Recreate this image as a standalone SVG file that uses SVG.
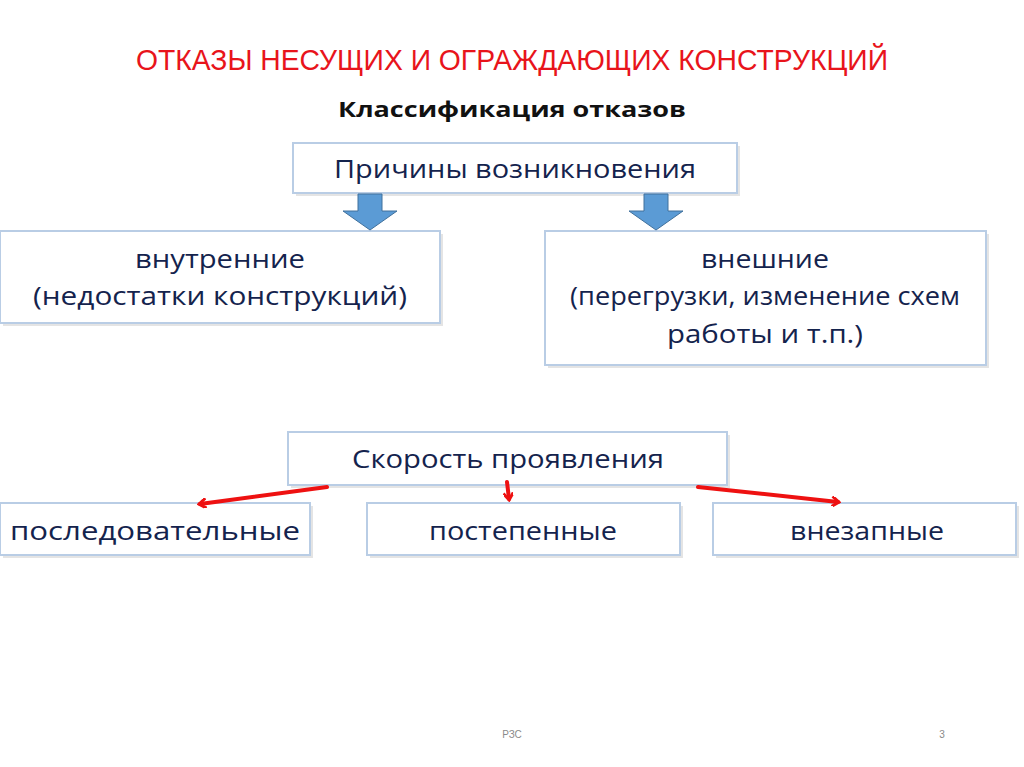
<svg xmlns="http://www.w3.org/2000/svg" width="1024" height="767" viewBox="0 0 1024 767">
<style>
.box{fill:#fff;stroke:#b9cde5;stroke-width:2}
.sh{fill:#e4e4e4}
.t{font-family:"Open Sans","Liberation Sans",sans-serif;fill:#14234d;font-size:25px;text-anchor:middle}
.r{stroke:#ee1111;stroke-width:4;fill:none;stroke-linecap:round}
</style>
<defs>
<marker id="ah" markerWidth="10" markerHeight="10" refX="7" refY="5" orient="auto" markerUnits="userSpaceOnUse" viewBox="0 0 10 10"><path d="M1,0 L8,5 L1,10" fill="none" stroke="#ee1111" stroke-width="3"/></marker>
</defs>
<rect width="1024" height="767" fill="#fff"/>
<text x="512" y="70" font-family="Liberation Sans Narrow,Liberation Sans,sans-serif" font-size="29" fill="#e8141b" text-anchor="middle" textLength="752" lengthAdjust="spacingAndGlyphs">ОТКАЗЫ НЕСУЩИХ И ОГРАЖДАЮЩИХ КОНСТРУКЦИЙ</text>
<text x="512" y="117" font-family="Open Sans,Liberation Sans,sans-serif" font-size="22" font-weight="bold" fill="#111" text-anchor="middle" textLength="348" lengthAdjust="spacingAndGlyphs">Классификация отказов</text>
<g id="n1"><rect class="sh" x="296" y="146" width="444" height="50"/><rect class="box" x="293" y="143" width="444" height="50"/><text class="t" x="515" y="178" textLength="362" lengthAdjust="spacingAndGlyphs">Причины возникновения</text></g>
<g id="n2"><rect class="sh" x="3" y="234" width="440" height="92"/><rect class="box" x="0" y="231" width="440" height="92"/><text class="t" x="220" y="268" textLength="170" lengthAdjust="spacingAndGlyphs">внутренние</text><text class="t" x="220" y="305" textLength="374" lengthAdjust="spacingAndGlyphs">(недостатки конструкций)</text></g>
<g id="n3"><rect class="sh" x="548" y="234" width="441" height="134"/><rect class="box" x="545" y="231" width="441" height="134"/><text class="t" x="765" y="268" textLength="128" lengthAdjust="spacingAndGlyphs">внешние</text><text class="t" x="765" y="305" textLength="390" lengthAdjust="spacingAndGlyphs">(перегрузки, изменение схем</text><text class="t" x="765" y="343" textLength="196" lengthAdjust="spacingAndGlyphs">работы и т.п.)</text></g>
<g id="n4"><rect class="sh" x="291" y="435" width="439" height="53"/><rect class="box" x="288" y="432" width="439" height="53"/><text class="t" x="508" y="468" textLength="312" lengthAdjust="spacingAndGlyphs">Скорость проявления</text></g>
<g id="n5"><rect class="sh" x="3" y="506" width="310" height="52"/><rect class="box" x="0" y="503" width="310" height="52"/><text class="t" x="155" y="540" textLength="290" lengthAdjust="spacingAndGlyphs">последовательные</text></g>
<g id="n6"><rect class="sh" x="370" y="506" width="313" height="52"/><rect class="box" x="367" y="503" width="313" height="52"/><text class="t" x="523" y="540" textLength="188" lengthAdjust="spacingAndGlyphs">постепенные</text></g>
<g id="n7"><rect class="sh" x="716" y="506" width="303" height="52"/><rect class="box" x="713" y="503" width="303" height="52"/><text class="t" x="867" y="540" textLength="154" lengthAdjust="spacingAndGlyphs">внезапные</text></g>
<g id="connectors">
<path d="M358,194 H382 V211 H397 L370,230 L343,211 H358 Z" fill="#5b9bd5" stroke="#41719c" stroke-width="1"/>
<path d="M644,194 H668 V211 H683 L656,230 L629,211 H644 Z" fill="#5b9bd5" stroke="#41719c" stroke-width="1"/>
<line class="r" x1="327" y1="487" x2="200" y2="504" marker-end="url(#ah)"/>
<line class="r" x1="507" y1="482" x2="509" y2="499" marker-end="url(#ah)"/>
<line class="r" x1="698" y1="487" x2="838" y2="502" marker-end="url(#ah)"/>
</g>
<text x="512" y="738" font-family="Liberation Sans,sans-serif" font-size="10" fill="#8a8a8a" text-anchor="middle">РЗС</text>
<text x="942" y="738" font-family="Liberation Sans,sans-serif" font-size="10" fill="#8a8a8a" text-anchor="middle">3</text>
</svg>
